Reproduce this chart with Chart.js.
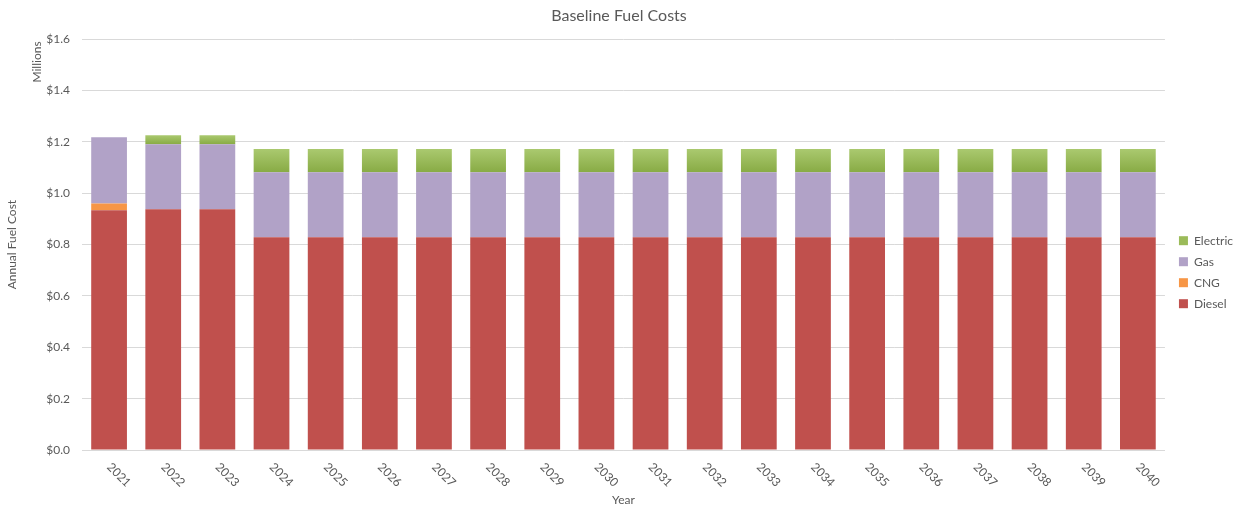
<!DOCTYPE html>
<html>
<head>
<meta charset="utf-8">
<script src="https://cdn.jsdelivr.net/npm/chart.js@4/dist/chart.umd.min.js"></script>
<style>
  html, body { margin: 0; padding: 0; background: #ffffff; }
  #wrap { width: 1239px; height: 508px; position: relative; }
</style>
</head>
<body>
<div id="wrap"><canvas id="c"></canvas></div>
<script>
// ---- data (values in millions of dollars) ----
const years = ['2021','2022','2023','2024','2025','2026','2027','2028','2029','2030',
               '2031','2032','2033','2034','2035','2036','2037','2038','2039','2040'];
const diesel   = [0.934,0.938,0.938,0.829,0.829,0.829,0.829,0.829,0.829,0.829,
                  0.829,0.829,0.829,0.829,0.829,0.829,0.829,0.829,0.829,0.829];
const cng      = [0.026,0,0,0,0,0,0,0,0,0,0,0,0,0,0,0,0,0,0,0];
const gas      = [0.258,0.253,0.253,0.253,0.253,0.253,0.253,0.253,0.253,0.253,
                  0.253,0.253,0.253,0.253,0.253,0.253,0.253,0.253,0.253,0.253];
const electric = [0,0.035,0.035,0.090,0.090,0.090,0.090,0.090,0.090,0.090,
                  0.090,0.090,0.090,0.090,0.090,0.090,0.090,0.090,0.090,0.090];
const yTicks = [0,0.2,0.4,0.6,0.8,1.0,1.2,1.4,1.6];

const FONT = 'Lato, "Open Sans", sans-serif';
const TXT = '#595959';
const GRID = '#d9d9d9';

// Category scale whose rotated labels hang down to the right of each tick
class SlantCategoryScale extends Chart.CategoryScale {
  _getXAxisLabelAlignment() { return 'left'; }
}
SlantCategoryScale.id = 'slantCategory';
SlantCategoryScale.defaults = Chart.CategoryScale.defaults;
Chart.register(SlantCategoryScale);

function electricFill(ctx) {
  const chart = ctx.chart;
  const y = chart.scales && chart.scales.y;
  if (!chart.chartArea || !y || ctx.type !== 'data') return '#9bbb59';
  const i = ctx.dataIndex;
  const base = diesel[i] + cng[i] + gas[i];
  const top = base + electric[i];
  const y0 = y.getPixelForValue(top), y1 = y.getPixelForValue(base);
  if (!isFinite(y0) || !isFinite(y1) || y0 === y1) return '#9bbb59';
  const g = chart.ctx.createLinearGradient(0, y0, 0, y1);
  g.addColorStop(0, '#aac96f');
  g.addColorStop(1, '#88ab45');
  return g;
}

const millionsLabel = {
  id: 'millionsLabel',
  afterLayout(chart) {
    // nudge legend a little away from the plot
    if (chart.legend) { chart.legend.left += 5; chart.legend.right += 5; }
  },
  afterDraw(chart) {
    const c = chart.ctx;
    c.save();
    c.translate(37, 62);
    c.rotate(-Math.PI / 2);
    c.font = '12px ' + FONT;
    c.fillStyle = TXT;
    c.textAlign = 'center';
    c.textBaseline = 'middle';
    c.fillText('Millions', 0, 0);
    c.restore();
  }
};

new Chart(document.getElementById('c'), {
  type: 'bar',
  data: {
    labels: years,
    datasets: [
      { label: 'Diesel',   data: diesel,   backgroundColor: '#c0504d' },
      { label: 'CNG',      data: cng,      backgroundColor: '#f79646' },
      { label: 'Gas',      data: gas,      backgroundColor: '#b1a2c7' },
      { label: 'Electric', data: electric, backgroundColor: electricFill }
    ]
  },
  options: {
    responsive: true,
    maintainAspectRatio: false,
    animation: false,
    datasets: { bar: { categoryPercentage: 1.0, barPercentage: 0.66, borderWidth: 0 } },
    layout: { padding: { left: 0, right: 1, top: 0, bottom: 0 } },
    plugins: {
      title: {
        display: true,
        text: 'Baseline Fuel Costs',
        color: TXT,
        font: { family: FONT, size: 16, weight: 'normal' },
        padding: { top: 6, bottom: 14 }
      },
      legend: {
        position: 'right',
        reverse: true,
        title: { display: true, text: '', padding: { top: 11, bottom: 11 } },
        labels: {
          boxWidth: 9, boxHeight: 9, padding: 9,
          color: TXT,
          font: { family: FONT, size: 12 }
        }
      },
      tooltip: { enabled: false }
    },
    scales: {
      x: {
        type: 'slantCategory',
        stacked: true,
        grid: { display: false },
        border: { color: GRID, width: 1 },
        ticks: {
          color: TXT, font: { family: FONT, size: 12 },
          minRotation: -45, maxRotation: -45, padding: 2, autoSkip: false
        },
        title: {
          display: true, text: 'Year', color: TXT,
          font: { family: FONT, size: 12 }, padding: { top: 0, bottom: 1 }
        },
        afterFit(s) { s.height = 58; }
      },
      y: {
        stacked: true,
        min: 0, max: 1.6,
        afterBuildTicks(s) { s.ticks = yTicks.map(v => ({ value: v })); },
        grid: { color: GRID, lineWidth: 1, drawTicks: false },
        border: { display: false },
        ticks: {
          color: TXT, font: { family: FONT, size: 12 }, padding: 12,
          callback: v => '$' + Number(v).toFixed(1)
        },
        title: {
          display: true, text: 'Annual Fuel Cost', color: TXT,
          font: { family: FONT, size: 12 }, padding: { top: 5, bottom: 0 }
        },
        afterFit(s) { s.width = 82; }
      }
    }
  },
  plugins: [millionsLabel]
});
</script>
</body>
</html>
